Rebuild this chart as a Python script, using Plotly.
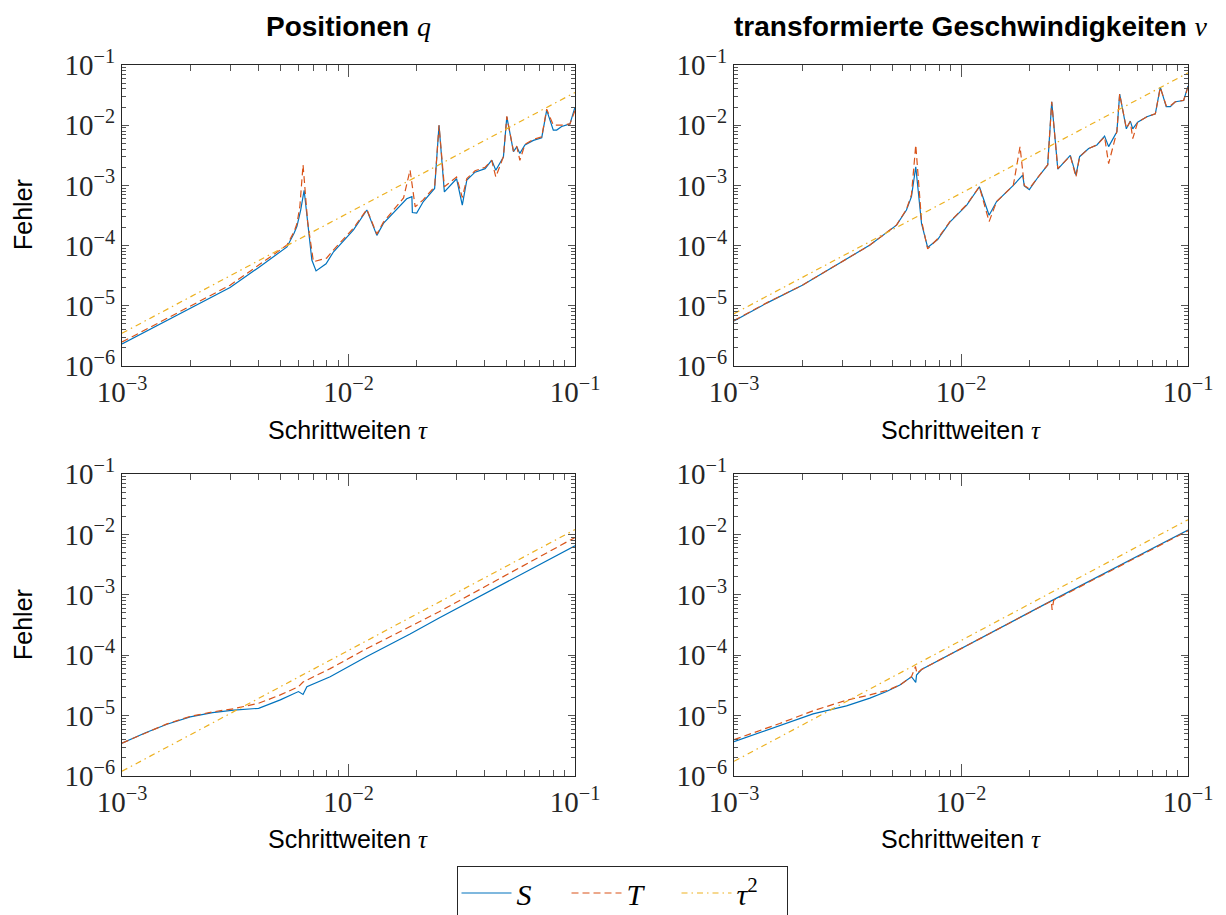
import plotly.graph_objects as go

# ---------------------------------------------------------------- data
# Positionen q (top left)
pos_tau_S = [1.00e-3, 1.40e-3, 2.00e-3, 3.00e-3, 4.00e-3, 5.35e-3, 5.75e-3, 5.92e-3,
             6.15e-3, 6.37e-3, 6.89e-3, 7.19e-3, 7.96e-3, 8.59e-3, 1.052e-2, 1.205e-2,
             1.334e-2, 1.426e-2, 1.807e-2, 1.905e-2, 1.914e-2, 2.00e-2, 2.14e-2, 2.40e-2,
             2.51e-2, 2.65e-2, 3.00e-2, 3.18e-2, 3.33e-2, 3.62e-2, 4.01e-2, 4.29e-2,
             4.47e-2, 4.83e-2, 5.00e-2, 5.35e-2, 5.53e-2, 5.71e-2, 6.01e-2, 6.55e-2,
             7.13e-2, 7.50e-2, 8.02e-2, 8.30e-2, 8.73e-2, 9.50e-2, 1.00e-1]
pos_err_S = [2.32e-6, 4.5e-6, 8.9e-6, 2.02e-5, 4.3e-5, 9.5e-5, 1.6e-4, 2.09e-4,
             3.9e-4, 8.3e-4, 5.75e-5, 3.8e-5, 5.0e-5, 7.9e-5, 1.82e-4, 3.9e-4,
             1.48e-4, 2.34e-4, 6.0e-4, 6.5e-4, 3.55e-4, 3.47e-4, 5.4e-4, 8.9e-4,
             1.0e-2, 7.8e-4, 1.29e-3, 4.7e-4, 1.23e-3, 1.66e-3, 1.9e-3, 2.63e-3,
             1.78e-3, 2.95e-3, 1.38e-2, 3.63e-3, 4.37e-3, 3.4e-3, 4.68e-3, 5.6e-3,
             6.2e-3, 1.78e-2, 8.3e-3, 8.3e-3, 9.5e-3, 1.05e-2, 2.0e-2]
pos_tau_T = [1.00e-3, 1.40e-3, 2.00e-3, 3.00e-3, 4.00e-3, 5.35e-3, 5.75e-3, 5.92e-3,
             6.10e-3, 6.30e-3, 6.60e-3, 7.00e-3, 8.00e-3, 8.59e-3, 1.052e-2, 1.205e-2,
             1.334e-2, 1.426e-2, 1.75e-2, 1.87e-2, 1.97e-2, 2.14e-2, 2.40e-2, 2.51e-2,
             2.65e-2, 3.00e-2, 3.18e-2, 3.33e-2, 3.62e-2, 4.01e-2, 4.29e-2, 4.47e-2,
             4.83e-2, 5.00e-2, 5.35e-2, 5.53e-2, 5.71e-2, 6.01e-2, 6.55e-2, 7.13e-2,
             7.50e-2, 8.02e-2, 8.30e-2, 8.73e-2, 9.50e-2, 1.00e-1]
pos_err_T = [2.5e-6, 4.9e-6, 9.7e-6, 2.2e-5, 4.7e-5, 1.02e-4, 1.7e-4, 2.3e-4,
             4.5e-4, 2.2e-3, 2.5e-4, 5.4e-5, 6.2e-5, 8.5e-5, 1.95e-4, 4.0e-4,
             1.55e-4, 2.45e-4, 6.2e-4, 1.8e-3, 4.4e-4, 5.8e-4, 9.5e-4, 1.0e-2,
             9.5e-4, 1.38e-3, 6.3e-4, 1.3e-3, 1.75e-3, 2.0e-3, 2.6e-3, 1.38e-3,
             3.0e-3, 1.4e-2, 3.7e-3, 4.5e-3, 2.6e-3, 4.8e-3, 5.8e-3, 6.4e-3,
             1.85e-2, 1.0e-2, 1.0e-2, 1.0e-2, 1.05e-2, 1.75e-2]
pos_ref = [3.5e-6, 3.5e-2]

# transformierte Geschwindigkeiten v (top right)
vel_tau_S = [1.00e-3, 1.40e-3, 2.00e-3, 2.74e-3, 3.97e-3, 5.20e-3, 5.75e-3, 6.05e-3,
             6.32e-3, 6.70e-3, 7.13e-3, 7.89e-3, 8.93e-3, 1.06e-2, 1.205e-2, 1.33e-2,
             1.435e-2, 1.70e-2, 1.87e-2, 1.90e-2, 2.00e-2, 2.16e-2, 2.41e-2, 2.51e-2,
             2.67e-2, 3.03e-2, 3.21e-2, 3.33e-2, 3.65e-2, 3.97e-2, 4.29e-2, 4.47e-2,
             4.86e-2, 5.00e-2, 5.35e-2, 5.57e-2, 5.71e-2, 6.00e-2, 6.59e-2, 7.18e-2,
             7.55e-2, 8.02e-2, 8.36e-2, 8.79e-2, 9.57e-2, 1.00e-1]
vel_err_S = [5.6e-6, 1.12e-5, 2.2e-5, 4.5e-5, 1.02e-4, 2.19e-4, 3.9e-4, 6.5e-4,
             2.04e-3, 2.34e-4, 9.3e-5, 1.26e-4, 2.45e-4, 4.7e-4, 9.5e-4, 3.2e-4,
             5.4e-4, 1.0e-3, 1.48e-3, 9.8e-4, 8.5e-4, 1.29e-3, 2.19e-3, 2.45e-2,
             1.86e-3, 3.16e-3, 1.48e-3, 3.0e-3, 4.1e-3, 4.7e-3, 6.6e-3, 4.4e-3,
             7.8e-3, 3.3e-2, 8.7e-3, 1.17e-2, 8.7e-3, 1.12e-2, 1.38e-2, 1.55e-2,
             4.3e-2, 2.04e-2, 2.04e-2, 2.45e-2, 2.57e-2, 4.5e-2]
vel_tau_T = [1.00e-3, 1.40e-3, 2.00e-3, 2.74e-3, 3.97e-3, 5.20e-3, 5.75e-3, 6.05e-3,
             6.32e-3, 6.70e-3, 7.13e-3, 7.89e-3, 8.93e-3, 1.06e-2, 1.205e-2, 1.33e-2,
             1.435e-2, 1.70e-2, 1.82e-2, 1.90e-2, 2.00e-2, 2.16e-2, 2.41e-2, 2.51e-2,
             2.67e-2, 3.03e-2, 3.21e-2, 3.33e-2, 3.65e-2, 3.97e-2, 4.29e-2, 4.47e-2,
             4.86e-2, 5.00e-2, 5.35e-2, 5.57e-2, 5.71e-2, 6.00e-2, 6.59e-2, 7.18e-2,
             7.55e-2, 8.02e-2, 8.36e-2, 8.79e-2, 9.57e-2, 1.00e-1]
vel_err_T = [5.7e-6, 1.13e-5, 2.2e-5, 4.5e-5, 1.02e-4, 2.2e-4, 4.0e-4, 7.0e-4,
             4.7e-3, 2.6e-4, 8.8e-5, 1.3e-4, 2.5e-4, 4.8e-4, 9.5e-4, 2.5e-4,
             5.4e-4, 1.0e-3, 4.4e-3, 1.0e-3, 8.8e-4, 1.3e-3, 2.2e-3, 2.45e-2,
             1.9e-3, 3.1e-3, 1.38e-3, 3.0e-3, 4.1e-3, 4.7e-3, 6.4e-3, 2.3e-3,
             7.8e-3, 3.3e-2, 8.9e-3, 1.15e-2, 6.0e-3, 1.12e-2, 1.38e-2, 1.55e-2,
             4.2e-2, 2.1e-2, 2.1e-2, 2.45e-2, 2.6e-2, 4.3e-2]
vel_ref = [7.4e-6, 7.4e-2]

# second method, positions (bottom left)
pos2_tau_S = [1.00e-3, 1.27e-3, 1.58e-3, 2.00e-3, 2.51e-3, 3.11e-3, 4.01e-3, 4.47e-3,
              5.00e-3, 6.01e-3, 6.30e-3, 6.55e-3, 8.30e-3, 1.205e-2, 1.87e-2, 2.50e-2,
              1.00e-1]
pos2_err_S = [3.5e-6, 5.2e-6, 7.2e-6, 9.5e-6, 1.12e-5, 1.23e-5, 1.32e-5, 1.55e-5,
              1.82e-5, 2.5e-5, 2.24e-5, 3.0e-5, 4.4e-5, 9.5e-5, 2.24e-4, 4.1e-4,
              6.5e-3]
pos2_tau_T = [1.00e-3, 1.27e-3, 1.58e-3, 2.00e-3, 2.51e-3, 3.11e-3, 4.01e-3, 5.00e-3,
              6.01e-3, 6.30e-3, 8.30e-3, 1.205e-2, 1.87e-2, 2.50e-2, 1.00e-1]
pos2_err_T = [3.5e-6, 5.2e-6, 7.3e-6, 9.7e-6, 1.15e-5, 1.3e-5, 1.6e-5, 2.2e-5,
              3.0e-5, 3.6e-5, 6.0e-5, 1.29e-4, 2.95e-4, 5.2e-4, 8.9e-3]
pos2_ref = [1.2e-6, 1.2e-2]

# second method, velocities (bottom right)
vel2_tau_S = [1.00e-3, 1.59e-3, 2.23e-3, 3.13e-3, 3.97e-3, 4.70e-3, 5.38e-3, 6.05e-3,
              6.32e-3, 6.37e-3, 6.70e-3, 2.51e-2, 1.00e-1]
vel2_err_S = [3.7e-6, 6.9e-6, 1.07e-5, 1.45e-5, 1.95e-5, 2.5e-5, 3.2e-5, 4.4e-5,
              3.55e-5, 4.7e-5, 5.8e-5, 8.0e-4, 1.18e-2]
vel2_tau_T = [1.00e-3, 1.59e-3, 2.23e-3, 3.13e-3, 3.97e-3, 4.70e-3, 5.38e-3, 6.05e-3,
              6.30e-3, 6.40e-3, 6.70e-3, 2.50e-2, 2.52e-2, 2.56e-2, 1.00e-1]
vel2_err_T = [4.0e-6, 7.4e-6, 1.2e-5, 1.8e-5, 2.2e-5, 2.6e-5, 3.2e-5, 4.4e-5,
              6.5e-5, 5.0e-5, 5.8e-5, 7.9e-4, 5.6e-4, 8.1e-4, 1.15e-2]
vel2_ref = [1.75e-6, 1.75e-2]

ref_tau = [1.0e-3, 1.0e-1]

x_ticks = [1e-3, 1e-2, 1e-1]
x_labels = ["10<sup>\u22123</sup>", "10<sup>\u22122</sup>", "10<sup>\u22121</sup>"]
y_ticks = [1e-6, 1e-5, 1e-4, 1e-3, 1e-2, 1e-1]
y_labels = ["10<sup>\u22126</sup>", "10<sup>\u22125</sup>", "10<sup>\u22124</sup>",
            "10<sup>\u22123</sup>", "10<sup>\u22122</sup>", "10<sup>\u22121</sup>"]

# ---------------------------------------------------------------- style
W, H = 1226, 915
BLUE, RED, ORANGE = "#0072BD", "#D95319", "#EDB120"
SERIF = "Liberation Serif"
SANS = "Liberation Sans"
INK = "#262626"

panels = [
    # (tau_S, err_S, tau_T, err_T, ref, x-pixels, y-pixels)
    (pos_tau_S, pos_err_S, pos_tau_T, pos_err_T, pos_ref, (122, 575), (65, 366)),
    (vel_tau_S, vel_err_S, vel_tau_T, vel_err_T, vel_ref, (734, 1188), (65, 366)),
    (pos2_tau_S, pos2_err_S, pos2_tau_T, pos2_err_T, pos2_ref, (122, 575), (474, 776)),
    (vel2_tau_S, vel2_err_S, vel2_tau_T, vel2_err_T, vel2_ref, (734, 1188), (474, 776)),
]

minor_x = [k * 10.0 ** e for e in (-3, -2) for k in range(2, 10)]
minor_y = [k * 10.0 ** e for e in (-6, -5, -4, -3, -2) for k in range(2, 10)]

fig = go.Figure()
layout = {}
for i, (tS, eS, tT, eT, ref, (x0, x1), (y0, y1)) in enumerate(panels, start=1):
    xa = "x" if i == 1 else f"x{i}"
    ya = "y" if i == 1 else f"y{i}"
    first = i == 1
    fig.add_trace(go.Scatter(x=tS, y=eS, mode="lines", name="<i>S</i>",
                             line=dict(color=BLUE, width=1.2),
                             xaxis=xa, yaxis=ya, showlegend=first, legendgroup="S"))
    fig.add_trace(go.Scatter(x=tT, y=eT, mode="lines", name="<i>T</i>",
                             line=dict(color=RED, width=1.2, dash="7px,4px"),
                             xaxis=xa, yaxis=ya, showlegend=first, legendgroup="T"))
    fig.add_trace(go.Scatter(x=ref_tau, y=ref, mode="lines",
                             name="<i>\u03c4</i><sup>2</sup>",
                             line=dict(color=ORANGE, width=1.2, dash="6px,4px,1.5px,4px"),
                             xaxis=xa, yaxis=ya, showlegend=first, legendgroup="r"))

    common = dict(type="log", showline=True, linecolor=INK, linewidth=1,
                  mirror="ticks", ticks="inside", tickwidth=1, tickcolor="#555",
                  showgrid=False, zeroline=False, automargin=False,
                  tickfont=dict(family=SERIF, size=29, color=INK))
    layout["xaxis" if i == 1 else f"xaxis{i}"] = dict(
        common, range=[-3, -1], domain=[x0 / W, x1 / W], anchor=ya,
        tickvals=x_ticks, ticktext=x_labels, ticklen=12,
        minor=dict(ticks="inside", ticklen=6, tickvals=minor_x, tickcolor="#555",
                   tickwidth=1, showgrid=False))
    layout["yaxis" if i == 1 else f"yaxis{i}"] = dict(
        common, range=[-6, -1], domain=[1 - y1 / H, 1 - y0 / H], anchor=xa,
        tickvals=y_ticks, ticktext=y_labels, ticklen=7,
        minor=dict(ticks="inside", ticklen=4, tickvals=minor_y, tickcolor="#555",
                   tickwidth=1, showgrid=False))

tau_it = f"<span style='font-family:{SERIF}'><i>\u03c4</i></span>"
annotations = []
for cx in (348, 961):
    for cy in (430, 839):
        annotations.append(dict(text="Schrittweiten " + tau_it, x=cx / W, y=1 - cy / H,
                                xref="paper", yref="paper", showarrow=False,
                                xanchor="center", yanchor="middle",
                                font=dict(family=SANS, size=25, color="black")))
for cy in (215, 625):
    annotations.append(dict(text="Fehler", x=23 / W, y=1 - cy / H, xref="paper",
                            yref="paper", showarrow=False, textangle=-90,
                            xanchor="center", yanchor="middle",
                            font=dict(family=SANS, size=25, color="black")))
annotations.append(dict(
    text="<b>Positionen</b> " + f"<span style='font-family:{SERIF}'><i>q</i></span>",
    x=348 / W, y=1 - 27 / H, xref="paper", yref="paper", showarrow=False,
    xanchor="center", yanchor="middle", font=dict(family=SANS, size=28, color="black")))
annotations.append(dict(
    text="<b>transformierte Geschwindigkeiten</b> "
         + f"<span style='font-family:{SERIF}'><i>v</i></span>",
    x=971 / W, y=1 - 27 / H, xref="paper", yref="paper", showarrow=False,
    xanchor="center", yanchor="middle", font=dict(family=SANS, size=28, color="black")))

fig.update_layout(
    **layout,
    annotations=annotations,
    width=W, height=H,
    margin=dict(l=0, r=0, t=0, b=0, autoexpand=False),
    paper_bgcolor="white", plot_bgcolor="white",
    showlegend=True,
    legend=dict(orientation="h", x=622 / W, xanchor="center", y=1 - 866 / H,
                yanchor="top", bordercolor=INK, borderwidth=1, bgcolor="white",
                itemwidth=50, entrywidth=45,
                font=dict(family=SERIF, size=30, color="black")),
)

fig.write_html("out.html")
